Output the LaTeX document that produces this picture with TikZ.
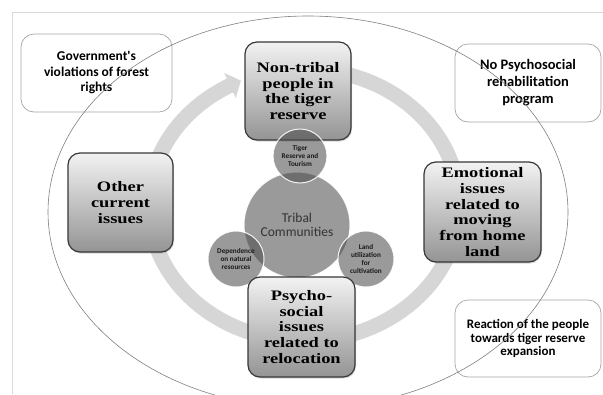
\documentclass[tikz,border=0pt]{standalone}
\usepackage{fontspec}
\setmainfont{Liberation Serif}
\newfontfamily\calibfont{Carlito}
\newfontfamily\goudyfont[FakeStretch=1.27]{Liberation Serif}
\usetikzlibrary{shadows,arrows.meta,bending}
\begin{document}
\begin{tikzpicture}[x=1pt,y=-1pt,
  outerbox/.style={rectangle, draw=black!35, line width=0.7pt, rounded corners=13pt, align=center, inner sep=0pt, text=black},
  mainbox/.style={rectangle, draw=black!78, line width=1.2pt, rounded corners=12pt, top color=black!5, bottom color=black!42, align=center, inner sep=0pt, text=black, font={\goudyfont\bfseries\fontsize{14.5}{15.8}\selectfont}, drop shadow={shadow xshift=1pt, shadow yshift=-1.5pt, opacity=0.3}},
  bubble/.style={circle, inner sep=0pt, fill=black!70, fill opacity=0.56, text opacity=1, draw=white, draw opacity=0.9, line width=1pt, align=center, text=black!90},
  tiny/.style={font={\calibfont\bfseries\fontsize{7.2}{7.8}\selectfont}}
]
\useasboundingbox (0,0) rectangle (603,394);
\clip (0,0) rectangle (603,394);
\fill[white] (0,0) rectangle (603,394);

% frame lines
\draw[black!15, line width=0.6pt] (12,394) -- (12,12) -- (603,12);

% circular arrow band
\draw[line width=15pt, draw=black!16, -{Triangle[width=27pt,length=12pt,bend]}]
  ([shift={(304,205)}]75:155pt and 136pt) arc[start angle=75, end angle=-246, x radius=155pt, y radius=136pt];

% outer text boxes
\node[outerbox, minimum width=151pt, minimum height=78pt, font={\calibfont\bfseries\fontsize{13.5}{15.5}\selectfont}] (gov) at (96.5,73) {Government's\\violations of forest\\rights};
\node[outerbox, minimum width=146pt, minimum height=78pt, font={\calibfont\bfseries\fontsize{14.5}{17}\selectfont}] (nopsy) at (528,83) {\raisebox{-3pt}{\parbox{140pt}{\centering No Psychosocial\\rehabilitation\\program}}};
\node[outerbox, minimum width=146pt, minimum height=77pt, font={\calibfont\bfseries\fontsize{13}{13.4}\selectfont}] (react) at (528,338.5) {\raisebox{3pt}{\parbox{140pt}{\centering Reaction of the people\\towards tiger reserve\\expansion}}};

% big ellipse
\draw[black!50, line width=0.6pt] (308,212) ellipse [x radius=260pt, y radius=196pt];

% circles
\node[bubble, minimum size=106pt, font={\calibfont\fontsize{13.5}{14}\selectfont}, text=black!80] (tribal) at (297,225) {Tribal\\Communities};
\node[bubble, minimum size=56pt, tiny] (dep) at (236,259) {Dependence\\on natural\\resources};
\node[bubble, minimum size=56pt, tiny] (land) at (366,259) {Land\\utilization\\for\\cultivation};

% main boxes
\node[mainbox, minimum width=105pt, minimum height=99pt] (other) at (120.5,202.5) {Other\\current\\issues};
\node[mainbox, minimum width=117pt, minimum height=100pt] (emo) at (482.5,212) {Emotional\\issues\\related to\\moving\\from home\\land};
\node[mainbox, minimum width=107pt, minimum height=100pt] (psy) at (301.5,327) {Psycho-\\social\\issues\\related to\\relocation};
\node[mainbox, minimum width=106pt, minimum height=98pt] (nontribal) at (298,91) {Non-tribal\\people in\\the tiger\\reserve};

\node[bubble, minimum size=54pt, tiny] (tiger) at (300,156) {Tiger\\Reserve and\\Tourism};
\end{tikzpicture}
\end{document}
